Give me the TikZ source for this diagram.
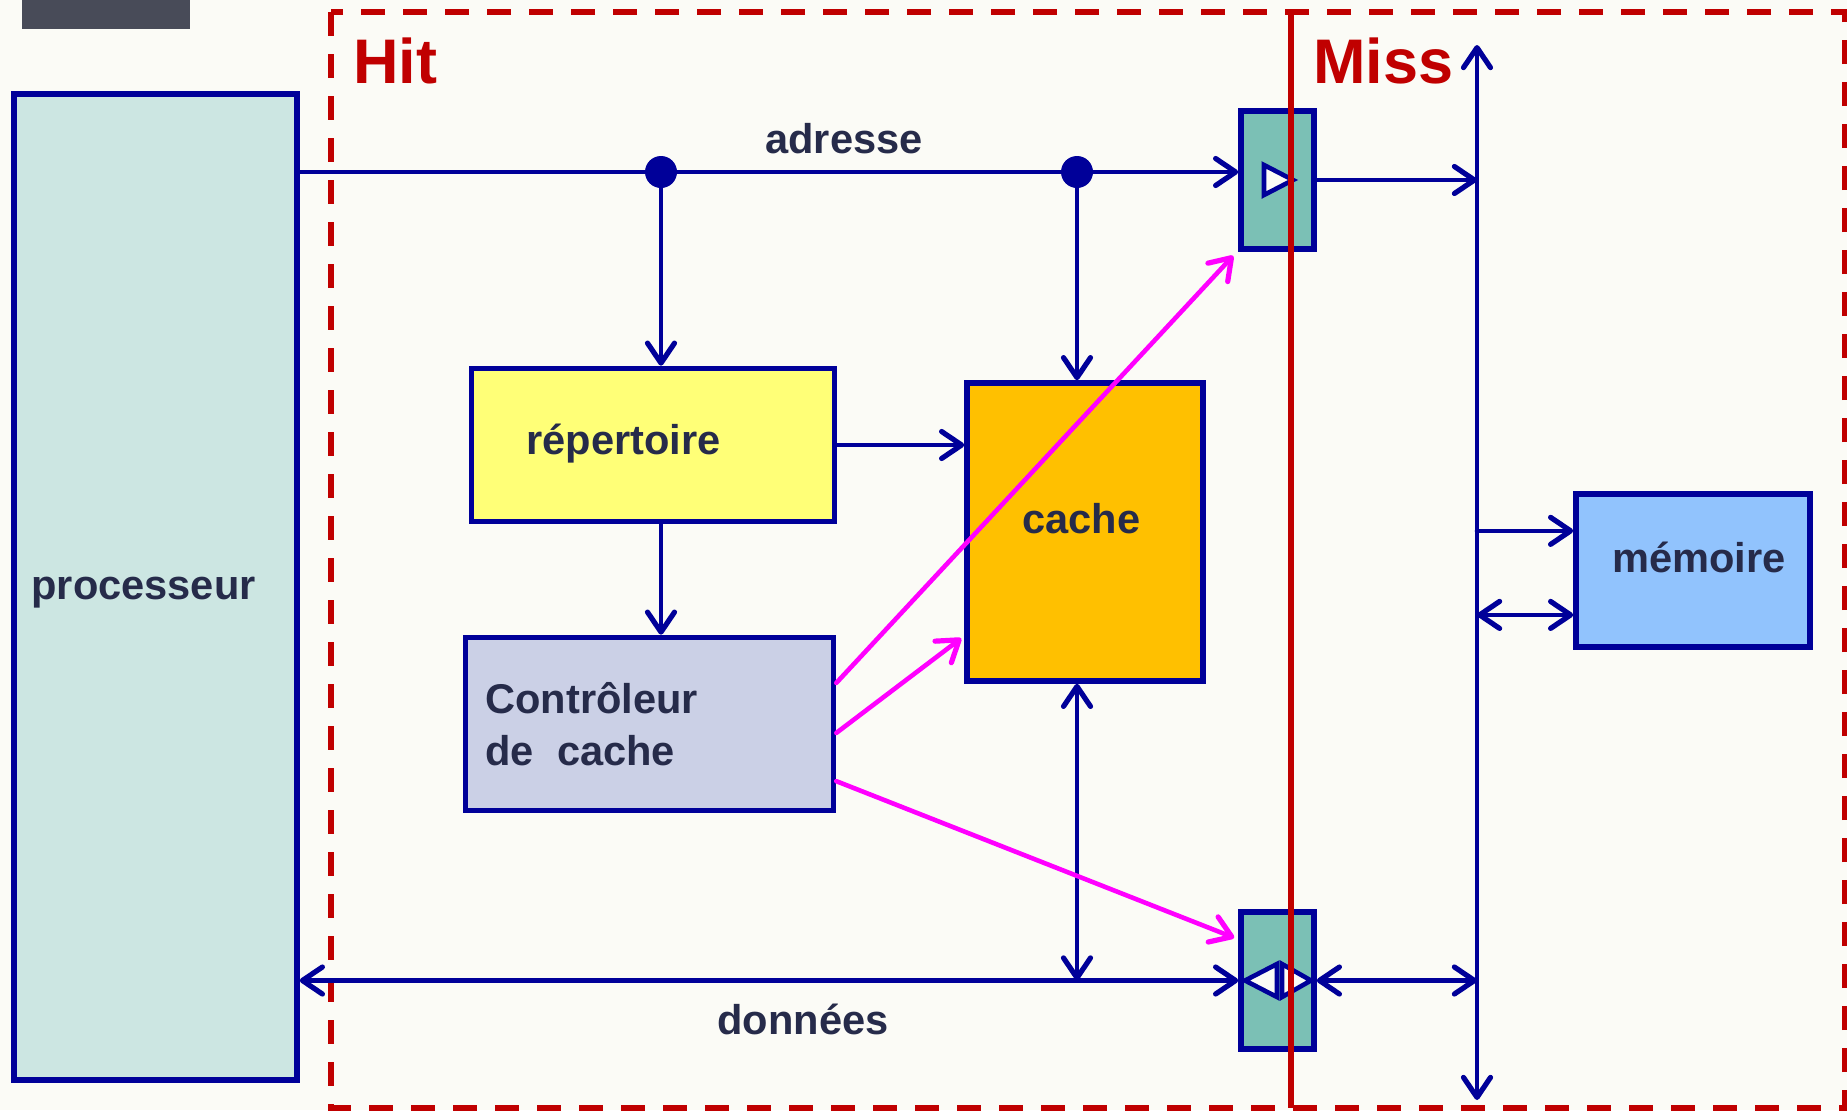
\documentclass[tikz,border=0pt]{standalone}
\usepackage{fontspec}
\setmainfont{Liberation Sans}
\usetikzlibrary{arrows.meta,calc}
\definecolor{bg}{HTML}{FBFBF6}
\definecolor{navy}{HTML}{000099}
\definecolor{txt}{HTML}{262B4A}
\definecolor{hitred}{HTML}{C00000}
\definecolor{mag}{HTML}{FF00FF}
\definecolor{procfill}{HTML}{CCE6E2}
\definecolor{repfill}{HTML}{FFFF77}
\definecolor{ctrlfill}{HTML}{CBD0E6}
\definecolor{cachefill}{HTML}{FFC000}
\definecolor{memfill}{HTML}{91C3FD}
\definecolor{buffill}{HTML}{7BC0B5}
\definecolor{darkpat}{HTML}{484B58}
\begin{document}
\begin{tikzpicture}[x=0.5pt,y=-0.5pt,
  box/.style={draw=navy, line width=2.8pt, rectangle, inner sep=0pt},
  lbl/.style={text=txt, font=\fontsize{20.8}{25}\selectfont\bfseries, inner sep=0pt, anchor=base west},
  bigl/.style={text=hitred, font=\fontsize{31.5}{36}\selectfont\bfseries, inner sep=0pt, anchor=base west},
  wire/.style={draw=navy, line width=2.3pt, line cap=round},
  tip/.tip={Straight Barb[length=10pt,width=13.5pt,line width=2.6pt,round]},
  mline/.style={draw=mag, line width=2.3pt, line cap=round, -{tip}},
  dot/.style={circle, fill=navy, inner sep=0pt, minimum size=16pt},
  tri/.style={draw=navy, line width=2.3pt, fill=bg, line join=miter}
]
\useasboundingbox (0,0) rectangle (1847,1110);
\fill[bg] (0,0) rectangle (1847,1110);
\fill[darkpat] (22,0) rectangle (190,29);

% Hit / Miss frame
\draw[hitred, line width=2.8pt, dash pattern=on 12pt off 9pt] (331,12) rectangle (1845,1108);

% boxes
\node[box, fill=procfill, minimum width=141.5pt, minimum height=493pt] (proc) at (155.5,587) {};
\node[box, fill=repfill, minimum width=181.5pt, minimum height=76.5pt] (rep) at (653,445) {};
\node[box, fill=ctrlfill, minimum width=184pt, minimum height=86.5pt] (ctrl) at (649.5,724) {};
\node[box, fill=cachefill, minimum width=118pt, minimum height=149pt] (cache) at (1085,532) {};
\node[box, fill=memfill, minimum width=117pt, minimum height=76.5pt] (mem) at (1693,570.5) {};
\node[box, fill=buffill, minimum width=36.5pt, minimum height=69pt] (buf1) at (1277.5,180) {};
\node[box, fill=buffill, minimum width=36.5pt, minimum height=68.5pt] (buf2) at (1277.5,980.5) {};

% labels
\node[lbl] (proclbl) at (31,599) {processeur};
\node[lbl] (replbl) at (526,454) {répertoire};
\node[lbl] (ctrllbl1) at (485,713) {Contrôleur};
\node[lbl] (ctrllbl2) at (485,765) {de~~cache};
\node[lbl] (cachelbl) at (1022,533) {cache};
\node[lbl] (memlbl) at (1612,572) {mémoire};
\node[lbl] (adrlbl) at (765,153) {adresse};
\node[lbl] (donlbl) at (717,1034) {données};
\node[bigl] (hitlbl) at (353,83) {Hit};
\node[bigl] (misslbl) at (1313,83) {Miss};

% dots and bus
\node[dot] (d1) at (661,172) {};
\node[dot] (d2) at (1077,172) {};
\coordinate (bt) at (1477,45);
\coordinate (bb) at (1477,1100);

% address path
\draw[wire] (proc.east |- d1) -- (d1) -- (d2);
\draw[wire,-{tip}] (d2) -- (buf1.west |- d2);
\draw[wire,-{tip}] (d1) -- (d1 |- rep.north);
\draw[wire,-{tip}] (d2) -- (d2 |- cache.north);
\draw[wire,-{tip}] (rep.east) -- (rep.east -| cache.west);
\draw[wire,-{tip}] (d1 |- rep.south) -- (d1 |- ctrl.north);
\draw[wire,-{tip}] (buf1.east) -- (buf1.east -| bt);

% bus
\draw[wire,{tip}-{tip}] (bt) -- (bb);
\coordinate (m1) at ($(mem.north west)!0.25!(mem.south west)$);
\coordinate (m2) at ($(mem.north west)!0.78!(mem.south west)$);
\draw[wire,-{tip}] (bt |- m1) -- (m1);
\draw[wire,{tip}-{tip}] (bt |- m2) -- (m2);

% data path
\draw[wire,{tip}-{tip}] (proc.east |- buf2) -- (buf2.west);
\draw[wire,{tip}-{tip}] (buf2.east) -- (buf2.east -| bt);
\draw[wire,{tip}-{tip}] (d2 |- cache.south) -- (d2 |- buf2);

% control signals
\draw[mline] ($(ctrl.north east)!0.27!(ctrl.south east)$) -- ($(buf1.south west)+(-5,4)$);
\draw[mline] ($(ctrl.north east)!0.55!(ctrl.south east)$) -- ($(cache.north west)!0.85!(cache.south west)+(-3,0)$);
\draw[mline] ($(ctrl.north east)!0.82!(ctrl.south east)$) -- ($(buf2.north west)!0.2!(buf2.south west)+(-4,0)$);

% buffer triangles
\begin{scope}[shift={(buf1.center)}]
  \draw[tri] (-13.5,-15) -- (-13.5,15) -- (15.5,0) -- cycle;
\end{scope}
\begin{scope}[shift={(buf2.center)}]
  \draw[tri] (-0.5,-16.5) -- (-0.5,16.5) -- (-32.5,0) -- cycle;
  \draw[tri] (4.5,-16.5) -- (4.5,16.5) -- (33.5,0) -- cycle;
\end{scope}

% Hit / Miss separator
\draw[hitred, line width=3pt] (1291,12) -- (1291,1108);
\end{tikzpicture}
\end{document}
